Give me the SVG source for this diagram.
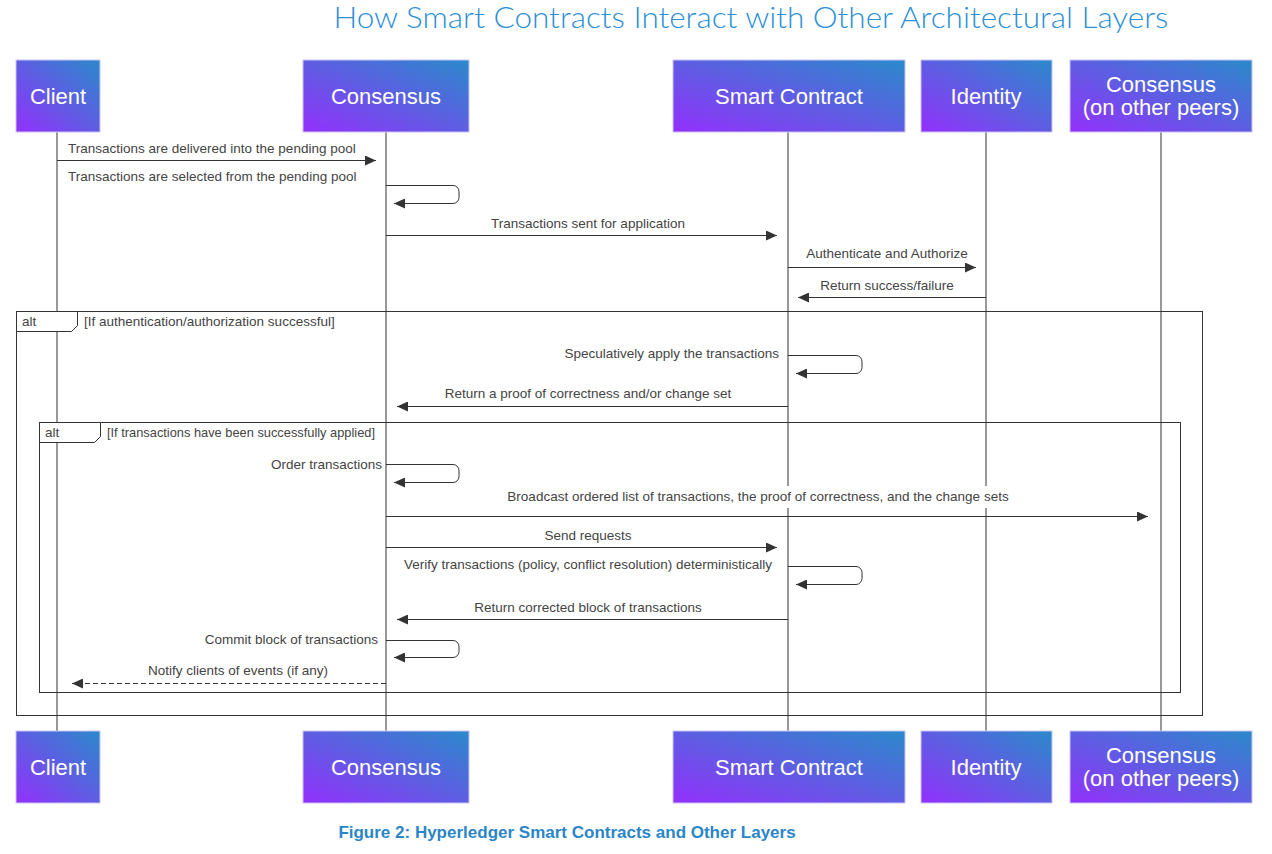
<svg xmlns="http://www.w3.org/2000/svg" width="1272" height="854" viewBox="0 0 1272 854">
<defs>
<linearGradient id="g" x1="0" y1="1" x2="1" y2="0">
<stop offset="0" stop-color="#9330fb"/>
<stop offset="1" stop-color="#2a8acb"/>
</linearGradient>
<marker id="ah" viewBox="0 0 11 10" refX="11" refY="5" markerWidth="11" markerHeight="10" markerUnits="userSpaceOnUse" orient="auto">
<path d="M0,0 L11,5 L0,10 z" fill="#333"/>
</marker>
<style>
.box{fill:url(#g);stroke:#c9c3f2;stroke-width:1}
.bl{font-family:"Liberation Sans",Arial,sans-serif;font-size:22px;fill:#fff;text-anchor:middle}
.life{stroke:#333;stroke-width:1;fill:none}
.msg{stroke:#333;stroke-width:1;fill:none;marker-end:url(#ah)}
.dash{stroke-dasharray:5,3}
.t{font-family:"Liberation Sans",Arial,sans-serif;font-size:13.5px;fill:#444}
.c{text-anchor:middle}
.r{text-anchor:end}
.frame{fill:none;stroke:#333;stroke-width:1}
.tab{fill:#fff;stroke:#333;stroke-width:1}
</style>
</defs>
<rect width="1272" height="854" fill="#fff"/>
<text x="751" y="28" font-family="Lato,'Liberation Sans',sans-serif" font-weight="300" font-size="30" fill="#2d8fd6" text-anchor="middle" textLength="835" lengthAdjust="spacingAndGlyphs">How Smart Contracts Interact with Other Architectural Layers</text>

<g id="lifelines">
<line class="life" x1="57" y1="132" x2="57" y2="731"/>
<line class="life" x1="386" y1="132" x2="386" y2="731"/>
<line class="life" x1="788" y1="132" x2="788" y2="731"/>
<line class="life" x1="986" y1="132" x2="986" y2="731"/>
<line class="life" x1="1161" y1="132" x2="1161" y2="731"/>
</g>

<g id="frames">
<rect class="frame" x="16.5" y="311.5" width="1186" height="404"/>
<path class="tab" d="M16.5,311.5 H77.5 V325.5 L71.5,331.5 H16.5 Z"/>
<text class="t" x="22" y="326">alt</text>
<text class="t" x="84" y="326">[If authentication/authorization successful]</text>
<rect class="frame" x="39.5" y="422.5" width="1141" height="270"/>
<path class="tab" d="M39.5,422.5 H100.5 V436.5 L94.5,442.5 H39.5 Z"/>
<text class="t" x="45" y="437">alt</text>
<text class="t" x="107" y="437" textLength="268" lengthAdjust="spacingAndGlyphs">[If transactions have been successfully applied]</text>
</g>

<g id="connectors">
<path class="msg" d="M57,160.5 H376"/>
<text class="t" x="68" y="153">Transactions are delivered into the pending pool</text>

<path class="msg" d="M386,185.5 H453 A6,6 0 0 1 459,191.5 V197.5 A6,6 0 0 1 453,203.5 H394"/>
<text class="t" x="68" y="181">Transactions are selected from the pending pool</text>

<path class="msg" d="M386,235.5 H777"/>
<text class="t c" x="588" y="228">Transactions sent for application</text>

<path class="msg" d="M788,267.5 H976"/>
<text class="t c" x="887" y="258">Authenticate and Authorize</text>

<path class="msg" d="M986,297.5 H798"/>
<text class="t c" x="887" y="290">Return success/failure</text>

<path class="msg" d="M788,355.5 H856 A6,6 0 0 1 862,361.5 V367.5 A6,6 0 0 1 856,373.5 H796"/>
<text class="t r" x="779" y="358">Speculatively apply the transactions</text>

<path class="msg" d="M788,406.5 H397"/>
<text class="t c" x="588" y="398">Return a proof of correctness and/or change set</text>

<path class="msg" d="M386,464.5 H453 A6,6 0 0 1 459,470.5 V476.5 A6,6 0 0 1 453,482.5 H394"/>
<text class="t r" x="382" y="469">Order transactions</text>

<path class="msg" d="M386,516.5 H1148"/>
<rect x="504" y="486" width="510" height="22" fill="#fff"/>
<text class="t c" x="758" y="501">Broadcast ordered list of transactions, the proof of correctness, and the change sets</text>

<path class="msg" d="M386,547.5 H777"/>
<text class="t c" x="588" y="540">Send requests</text>

<path class="msg" d="M788,566.5 H856 A6,6 0 0 1 862,572.5 V578.5 A6,6 0 0 1 856,584.5 H796"/>
<text class="t c" x="588" y="569">Verify transactions (policy, conflict resolution) deterministically</text>

<path class="msg" d="M788,619.5 H397"/>
<text class="t c" x="588" y="612">Return corrected block of transactions</text>

<path class="msg" d="M386,640.5 H453 A6,6 0 0 1 459,646.5 V651.5 A6,6 0 0 1 453,657.5 H394"/>
<text class="t r" x="378" y="644">Commit block of transactions</text>

<path class="msg dash" d="M386,683.5 H72"/>
<text class="t c" x="238" y="675">Notify clients of events (if any)</text>
</g>

<g id="client-top"><rect class="box" x="16" y="60" width="84" height="72"/><text class="bl" x="58" y="104">Client</text></g>
<g id="consensus-top"><rect class="box" x="303" y="60" width="166" height="72"/><text class="bl" x="386" y="104">Consensus</text></g>
<g id="smartcontract-top"><rect class="box" x="673" y="60" width="232" height="72"/><text class="bl" x="789" y="104">Smart Contract</text></g>
<g id="identity-top"><rect class="box" x="921" y="60" width="131" height="72"/><text class="bl" x="986" y="104">Identity</text></g>
<g id="peers-top"><rect class="box" x="1070" y="60" width="182" height="72"/><text class="bl" x="1161" y="92">Consensus</text><text class="bl" x="1161" y="115">(on other peers)</text></g>

<g id="client-bottom"><rect class="box" x="16" y="731" width="84" height="72"/><text class="bl" x="58" y="775">Client</text></g>
<g id="consensus-bottom"><rect class="box" x="303" y="731" width="166" height="72"/><text class="bl" x="386" y="775">Consensus</text></g>
<g id="smartcontract-bottom"><rect class="box" x="673" y="731" width="232" height="72"/><text class="bl" x="789" y="775">Smart Contract</text></g>
<g id="identity-bottom"><rect class="box" x="921" y="731" width="131" height="72"/><text class="bl" x="986" y="775">Identity</text></g>
<g id="peers-bottom"><rect class="box" x="1070" y="731" width="182" height="72"/><text class="bl" x="1161" y="763">Consensus</text><text class="bl" x="1161" y="786">(on other peers)</text></g>

<text x="567" y="838" font-family="'Liberation Sans',Arial,sans-serif" font-weight="bold" font-size="17" fill="#2b86c8" text-anchor="middle">Figure 2: Hyperledger Smart Contracts and Other Layers</text>
</svg>
